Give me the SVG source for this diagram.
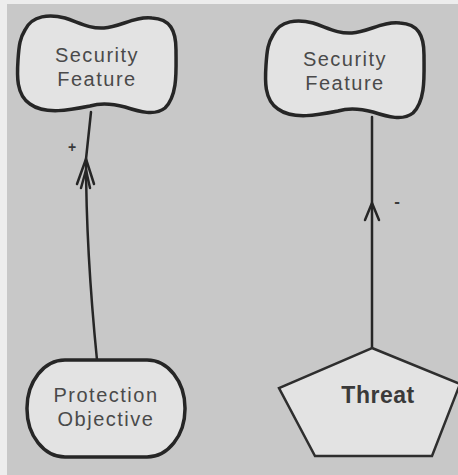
<svg xmlns="http://www.w3.org/2000/svg" width="458" height="475" viewBox="0 0 458 475">
  <defs>
    <path id="cloud" d="M 25,30 C 32,15 50,14 65,18 C 80,23 90,29 104,28 C 120,27 135,16 152,18 C 170,19 176,30 176,50 C 176,70 178,95 165,108 C 155,116 140,112 125,107 C 110,103 100,103 90,106 C 70,110 45,115 30,104 C 16,95 17,75 18,60 C 19,45 20,38 25,30 Z"/>
  </defs>
  <style>
    .bg { fill: #c8c8c8; }
    .edge { fill: #ededed; }
    .node { fill: #e3e3e3; stroke: #262626; stroke-width: 3.5; stroke-linejoin: round; }
    .poly { fill: #e3e3e3; stroke: #2e2e2e; stroke-width: 2.5; stroke-linejoin: miter; }
    .lbl { font-family: "Liberation Sans", Arial, sans-serif; font-size: 20px; letter-spacing: 1.5px; fill: #4a4a4a; text-anchor: middle; }
    .bold { font-weight: bold; font-size: 23px; letter-spacing: 0.5px; fill: #3a3a3a; }
    .conn { fill: none; stroke: #262626; stroke-width: 2.5; stroke-linecap: round; stroke-linejoin: round; }
    .sign { font-family: "Liberation Sans", Arial, sans-serif; fill: #3a3a3a; text-anchor: middle; font-weight: bold; }
  </style>

  <!-- canvas -->
  <rect class="edge" x="0" y="0" width="458" height="475"/>
  <rect class="bg" x="7" y="4" width="451" height="471"/>

  <!-- connectors -->
  <g id="connectors">
    <g id="objective-to-feature">
      <path class="conn" d="M 97,360 Q 86,250 86,159 L 91,112"/>
      <path class="conn" d="M 77,184 L 86,159 L 94,184"/>
      <path class="conn" d="M 81,188 L 86,170 L 90,188"/>
      <text class="sign" x="72" y="152" font-size="14">+</text>
    </g>
    <g id="threat-to-feature">
      <path class="conn" d="M 372,348 L 372,117"/>
      <path class="conn" d="M 365,220 L 372,203 L 379,220"/>
      <text class="sign" x="397" y="207" font-size="17">-</text>
    </g>
  </g>

  <!-- nodes -->
  <g id="security-feature-1">
    <use href="#cloud" class="node"/>
    <text class="lbl" x="97" y="62">Security</text>
    <text class="lbl" x="97" y="86">Feature</text>
  </g>

  <g id="security-feature-2">
    <use href="#cloud" class="node" transform="translate(248,5)"/>
    <text class="lbl" x="345" y="66">Security</text>
    <text class="lbl" x="345" y="90">Feature</text>
  </g>

  <g id="protection-objective">
    <rect class="node" x="27" y="360" width="158" height="97" rx="38" ry="48"/>
    <text class="lbl" x="106" y="402">Protection</text>
    <text class="lbl" x="106" y="426">Objective</text>
  </g>

  <g id="threat">
    <polygon class="poly" points="372,348 460,384 432,456 315,456 279,388"/>
    <text class="lbl bold" x="378" y="403">Threat</text>
  </g>
</svg>
